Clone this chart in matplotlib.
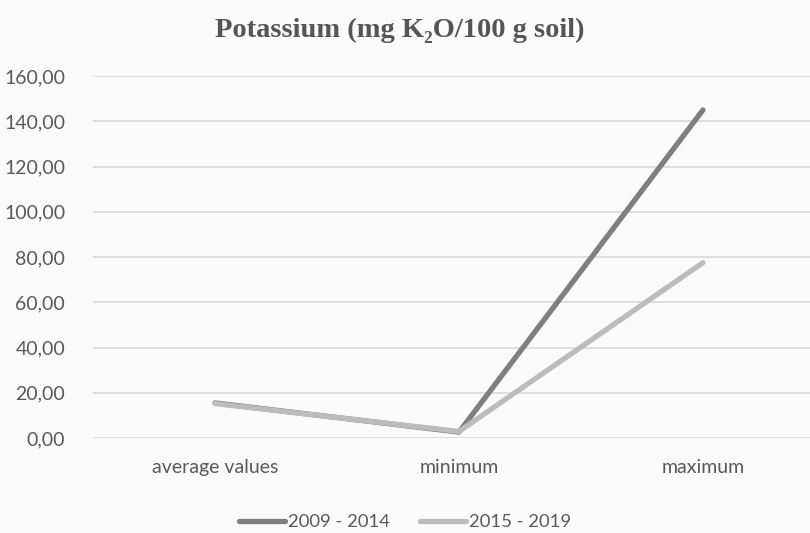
"""Potassium content line chart."""

import matplotlib
matplotlib.use("Agg")
import matplotlib.pyplot as plt
from matplotlib.ticker import FuncFormatter

categories = ["average values", "minimum", "maximum"]
series_2009_2014 = [15.5, 2.6, 145.0]
series_2015_2019 = [15.2, 2.9, 77.5]
y_ticks = [0, 20, 40, 60, 80, 100, 120, 140, 160]

TEXT = "#595959"
BG = "#fbfbfb"

fig = plt.figure(figsize=(8.1, 5.33), dpi=100, facecolor=BG)
ax = fig.add_axes([93 / 810, 1 - 438 / 533, 732 / 810, (438 - 76) / 533])
ax.set_facecolor(BG)

x = range(len(categories))
ax.plot(x, series_2009_2014, color="#7f7f7f", lw=3.8,
        solid_capstyle="round", label="2009 - 2014", zorder=3)
ax.plot(x, series_2015_2019, color="#bcbcbd", lw=3.8,
        solid_capstyle="round", label="2015 - 2019", zorder=3)

ax.set_xlim(-0.5, 2.5)
ax.set_ylim(0, 160)
ax.set_yticks(y_ticks)
ax.yaxis.set_major_formatter(FuncFormatter(lambda v, _: f"{v:.2f}".replace(".", ",")))
ax.set_xticks(list(x))
ax.set_xticklabels(categories)

ax.grid(axis="y", color="#d9d9d9", lw=1.2)
ax.set_axisbelow(True)
for s in ax.spines.values():
    s.set_visible(False)
ax.tick_params(axis="both", length=0, labelsize=14, labelcolor=TEXT,
               labelfontfamily="Lato")
ax.tick_params(axis="y", pad=20)
ax.tick_params(axis="x", pad=15)

fig.text(0.494, 1 - 30 / 533, "Potassium (mg K\u2082O/100 g soil)",
         ha="center", va="center", fontsize=20.5, fontweight="bold",
         family="Liberation Serif", color="#555555")

fig.legend(loc="center", bbox_to_anchor=(0.5, 1 - 522 / 533), ncol=2,
           frameon=False, prop={"family": "Lato", "size": 13.3},
           labelcolor=TEXT, handlelength=2.5, handletextpad=0.15,
           columnspacing=1.6)

fig.savefig("out.png", dpi=100, facecolor=BG)
